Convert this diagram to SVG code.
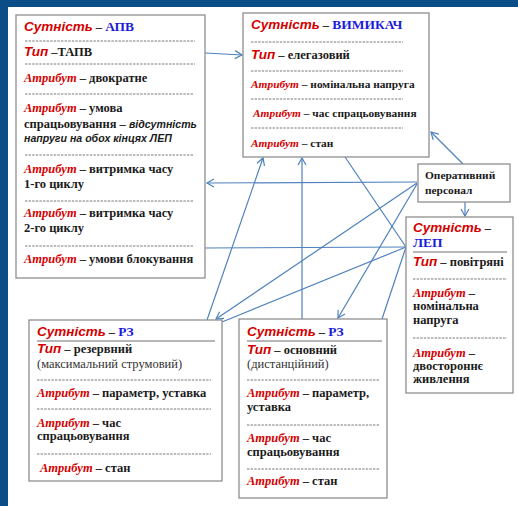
<svg xmlns="http://www.w3.org/2000/svg" width="518" height="506" viewBox="0 0 518 506">
<style>
.box{fill:#fff;stroke:#8f8f8f;stroke-width:1.3}
.sep{stroke:#555;stroke-width:0.8;stroke-dasharray:2.4 1.2}
.rule{stroke:#707070;stroke-width:1.2}
text{font-family:"Liberation Serif","Times New Roman",serif;font-weight:bold;font-size:12.5px;fill:#1a1a1a}
.ent{font-family:"Liberation Sans",Arial,sans-serif;font-style:italic;font-size:13.5px;fill:#d40000}
.attr{font-style:italic;fill:#d40000}
.blue{fill:#1c1cd8;font-size:13.5px}
.si{font-family:"Liberation Sans",Arial,sans-serif;font-style:italic;font-size:10.6px}
.reg{font-weight:normal;fill:#333}
.sm{font-size:11.4px}
.conn{stroke:#4f81bd;stroke-width:1.2;fill:none}
</style>
<defs>
<marker id="arr" markerUnits="userSpaceOnUse" markerWidth="12" markerHeight="12" viewBox="-10 -6 12 12" refX="0" refY="0" orient="auto">
<path d="M-7,-4 L0,0 L-7,4" fill="none" stroke="#4f81bd" stroke-width="1.2"/>
</marker>
</defs>
<rect x="0" y="0" width="518" height="506" fill="#fff"/>
<rect x="0" y="0" width="518" height="7" fill="#0b4d87"/>
<rect x="0" y="0" width="8" height="506" fill="#0b4d87"/>

<g id="connectors">
<line class="conn" x1="205" y1="53" x2="242" y2="55" marker-end="url(#arr)"/>
<line class="conn" x1="417" y1="182" x2="207" y2="183" marker-end="url(#arr)"/>
<line class="conn" x1="205" y1="248" x2="406" y2="247"/>
<line class="conn" x1="207" y1="320" x2="263" y2="158" marker-end="url(#arr)"/>
<line class="conn" x1="302" y1="319" x2="302" y2="158" marker-end="url(#arr)"/>
<line class="conn" x1="345" y1="157" x2="406" y2="247"/>
<line class="conn" x1="417" y1="183" x2="216" y2="319" marker-end="url(#arr)"/>
<line class="conn" x1="417" y1="184" x2="338" y2="318" marker-end="url(#arr)"/>
<line class="conn" x1="406" y1="247" x2="222" y2="322"/>
<line class="conn" x1="406" y1="247" x2="382" y2="319"/>
<line class="conn" x1="463" y1="164" x2="431" y2="132" marker-end="url(#arr)"/>
<line class="conn" x1="465" y1="202" x2="465" y2="216" marker-end="url(#arr)"/>
</g>

<g id="apv">
<rect class="box" x="16" y="15" width="189" height="263"/>
<text x="24" y="31"><tspan class="ent">Сутність</tspan> – <tspan class="blue">АПВ</tspan></text>
<line class="sep" x1="25" y1="41" x2="195" y2="41"/>
<text x="24" y="56"><tspan class="ent">Тип</tspan> –ТАПВ</text>
<line class="sep" x1="25" y1="64" x2="195" y2="64"/>
<text x="24" y="82"><tspan class="attr">Атрибут</tspan> – двократне</text>
<line class="sep" x1="25" y1="94" x2="193" y2="94"/>
<text x="24" y="112"><tspan class="attr">Атрибут</tspan> – умова</text>
<text x="24" y="128">спрацьовування – <tspan class="si">відсутність</tspan></text>
<text x="24" y="142" class="si">напруги на обох кінцях ЛЕП</text>
<line class="sep" x1="25" y1="155" x2="193" y2="155"/>
<text x="24" y="173"><tspan class="attr">Атрибут</tspan> – витримка часу</text>
<text x="24" y="188">1-го циклу</text>
<line class="sep" x1="25" y1="201" x2="193" y2="201"/>
<text x="24" y="217"><tspan class="attr">Атрибут</tspan> – витримка часу</text>
<text x="24" y="232">2-го циклу</text>
<line class="sep" x1="25" y1="246" x2="193" y2="246"/>
<text x="24" y="263"><tspan class="attr">Атрибут</tspan> – умови блокування</text>
</g>

<g id="vymykach">
<rect class="box" x="243" y="13" width="186" height="144"/>
<text x="251" y="29"><tspan class="ent">Сутність</tspan> – <tspan class="blue">ВИМИКАЧ</tspan></text>
<line class="sep" x1="251" y1="42" x2="403" y2="42"/>
<text x="251" y="59"><tspan class="ent">Тип</tspan> – елегазовий</text>
<line class="sep" x1="251" y1="71" x2="403" y2="71"/>
<text x="251" y="88" class="sm"><tspan class="attr">Атрибут</tspan> – номінальна напруга</text>
<line class="sep" x1="251" y1="99" x2="403" y2="99"/>
<text x="253" y="117" class="sm"><tspan class="attr">Атрибут</tspan> – час спрацьовування</text>
<line class="sep" x1="251" y1="128" x2="403" y2="128"/>
<text x="251" y="147" class="sm"><tspan class="attr">Атрибут</tspan> – стан</text>
</g>

<g id="personal">
<rect class="box" x="418" y="164" width="92" height="38"/>
<text x="425" y="179" class="sm">Оперативний</text>
<text x="425" y="194" class="sm">персонал</text>
</g>

<g id="lep">
<rect class="box" x="406" y="217" width="107" height="176"/>
<text x="413" y="232"><tspan class="ent">Сутність</tspan> –</text>
<text x="413" y="247" class="blue">ЛЕП</text>
<line class="rule" x1="413" y1="252" x2="507" y2="252"/>
<text x="413" y="266"><tspan class="ent">Тип</tspan> – повітряні</text>
<line class="sep" x1="413" y1="279" x2="507" y2="279"/>
<text x="413" y="297"><tspan class="attr">Атрибут</tspan> –</text>
<text x="413" y="310">номінальна</text>
<text x="413" y="324">напруга</text>
<line class="sep" x1="413" y1="338" x2="507" y2="338"/>
<text x="413" y="357"><tspan class="attr">Атрибут</tspan> –</text>
<text x="413" y="370">двостороннє</text>
<text x="413" y="383">живлення</text>
</g>

<g id="rz-reserve">
<rect class="box" x="29" y="320" width="193" height="161"/>
<text x="37" y="336"><tspan class="ent">Сутність</tspan> – <tspan class="blue">РЗ</tspan></text>
<line class="rule" x1="37" y1="341" x2="215" y2="341"/>
<text x="37" y="353"><tspan class="ent">Тип</tspan> – резервний</text>
<text x="37" y="368" class="reg">(максимальний струмовий)</text>
<line class="sep" x1="37" y1="380" x2="211" y2="380"/>
<text x="37" y="397"><tspan class="attr">Атрибут</tspan> – параметр, уставка</text>
<line class="sep" x1="37" y1="409" x2="211" y2="409"/>
<text x="37" y="427"><tspan class="attr">Атрибут</tspan> – час</text>
<text x="37" y="440">спрацьовування</text>
<line class="sep" x1="37" y1="454" x2="211" y2="454"/>
<text x="40" y="472"><tspan class="attr">Атрибут</tspan> – стан</text>
</g>

<g id="rz-main">
<rect class="box" x="239" y="319" width="148" height="179"/>
<text x="247" y="336"><tspan class="ent">Сутність</tspan> – <tspan class="blue">РЗ</tspan></text>
<line class="rule" x1="247" y1="341" x2="382" y2="341"/>
<text x="247" y="354"><tspan class="ent">Тип</tspan> – основний</text>
<text x="247" y="368" class="reg">(дистанційний)</text>
<line class="sep" x1="247" y1="380" x2="380" y2="380"/>
<text x="247" y="397"><tspan class="attr">Атрибут</tspan> – параметр,</text>
<text x="247" y="411">уставка</text>
<line class="sep" x1="247" y1="425" x2="380" y2="425"/>
<text x="247" y="442"><tspan class="attr">Атрибут</tspan> – час</text>
<text x="247" y="456">спрацьовування</text>
<line class="sep" x1="247" y1="469" x2="380" y2="469"/>
<text x="247" y="485"><tspan class="attr">Атрибут</tspan> – стан</text>
</g>
</svg>
